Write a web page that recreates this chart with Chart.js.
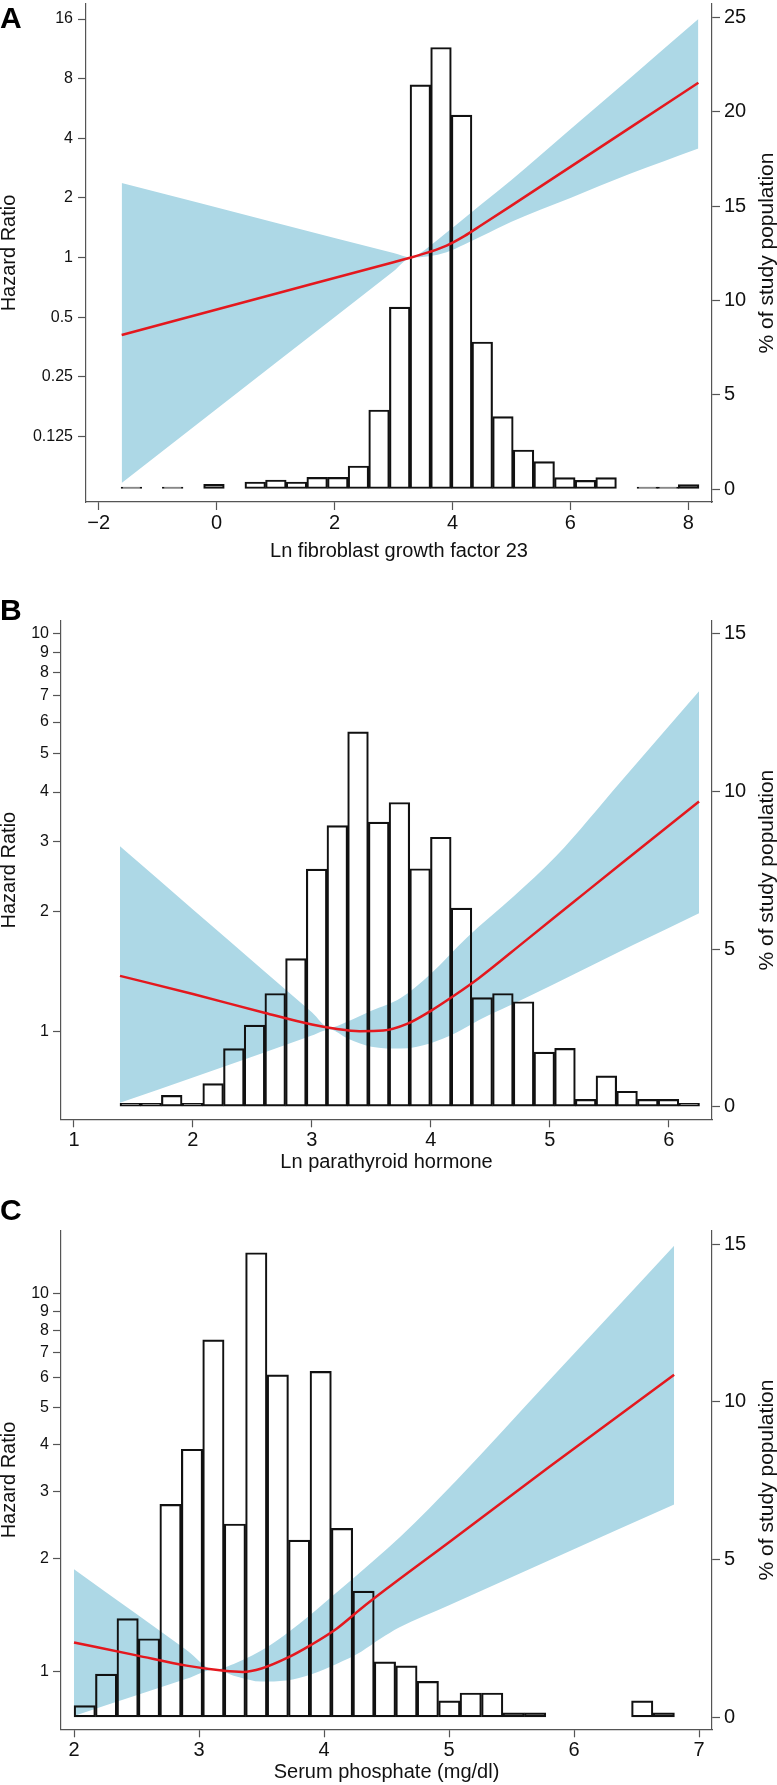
<!DOCTYPE html>
<html>
<head>
<meta charset="utf-8">
<script src="https://cdn.jsdelivr.net/npm/chart.js@4.4.1/dist/chart.umd.min.js"></script>
<style>
  html, body { margin: 0; padding: 0; background: #fff; }
  .panel { position: absolute; left: 0; width: 777px; }
  canvas { display: block; }
</style>
</head>
<body>
<div class="panel" style="top:0"><canvas id="chartA" width="777" height="580"></canvas></div>
<div class="panel" style="top:580px"><canvas id="chartB" width="777" height="600"></canvas></div>
<div class="panel" style="top:1180px"><canvas id="chartC" width="777" height="605"></canvas></div>
<script>
// Panel A: Ln fibroblast growth factor 23
const fgfBinMid = [-1.445, -1.095, -0.745, -0.395, -0.045, 0.305, 0.655, 1.005, 1.355, 1.705, 2.055, 2.405, 2.755, 3.105,
  3.455, 3.805, 4.155, 4.505, 4.855, 5.205, 5.555, 5.905, 6.255, 6.605, 6.955, 7.305, 7.655, 8.005];
const fgfPct = [0.1, null, 0.1, null, 0.25, null, 0.37, 0.48, 0.37, 0.62, 0.62, 1.22, 4.19, 9.65,
  21.44, 23.42, 19.83, 7.8, 3.84, 2.07, 1.45, 0.6, 0.46, 0.6, null, 0.1, 0.1, 0.23];
const fgfFitX = [-1.61, 1.0, 3.0, 3.3, 3.6, 3.9, 4.2, 4.5, 5.0, 6.0, 7.0, 8.17];
const fgfHR = [0.406, 0.656, 0.947, 1.0, 1.064, 1.149, 1.283, 1.464, 1.828, 2.868, 4.5, 7.62];
const fgfBandX = [-1.61, 1.0, 3.0, 3.3, 3.45, 3.6, 3.9, 4.2, 4.5, 5.0, 6.0, 7.0, 8.17];
const fgfUpper = [2.378, 1.5, 1.054, 1.0, 1.05, 1.133, 1.338, 1.58, 1.866, 2.462, 4.438, 8.0, 16.0];
const fgfLower = [0.0727, 0.293, 0.852, 1.0, 1.0035, 1.014, 1.064, 1.165, 1.283, 1.516, 2.0, 2.639, 3.555];
const fgfXTicks = [-2, 0, 2, 4, 6, 8];
const fgfHRTicks = [0.125, 0.25, 0.5, 1, 2, 4, 8, 16];
const fgfPctTicks = [0, 5, 10, 15, 20, 25];

// Panel B: Ln parathyroid hormone
const pthBinMid = [1.474, 1.648, 1.822, 1.996, 2.170, 2.344, 2.518, 2.692, 2.866, 3.040, 3.214, 3.388, 3.562, 3.736,
  3.910, 4.084, 4.258, 4.432, 4.606, 4.780, 4.954, 5.128, 5.302, 5.476, 5.650, 5.824, 5.998, 6.172];
const pthPct = [0.11, 0.11, 0.36, 0.11, 0.73, 1.84, 2.59, 3.59, 4.7, 7.54, 8.92, 11.89, 9.03, 9.65,
  7.55, 8.55, 6.3, 3.46, 3.59, 3.33, 1.73, 1.85, 0.23, 0.98, 0.49, 0.23, 0.23, 0.11];
const pthFitX = [1.387, 2.0, 2.6, 3.0, 3.2, 3.4, 3.6, 3.8, 4.0, 4.2, 4.4, 4.8, 5.2, 5.6, 6.255];
const pthHR = [1.378, 1.24, 1.113, 1.039, 1.014, 1.0, 1.0035, 1.043, 1.125, 1.231, 1.357, 1.693, 2.114, 2.639, 3.787];
const pthUpperX = [1.387, 2.0, 2.6, 3.0, 3.15, 3.3, 3.5, 3.75, 4.0, 4.3, 4.7, 5.05, 5.6, 6.255];
const pthUpper = [2.92, 2.025, 1.416, 1.116, 1.02, 1.057, 1.125, 1.214, 1.395, 1.717, 2.188, 2.751, 4.26, 7.17];
const pthLowerX = [1.387, 2.0, 2.6, 3.0, 3.15, 3.3, 3.5, 3.75, 4.0, 4.2, 4.41, 4.8, 5.25, 5.7, 6.255];
const pthLower = [0.66, 0.765, 0.884, 0.975, 1.01, 0.959, 0.914, 0.904, 0.933, 0.986, 1.068, 1.214, 1.414, 1.647, 1.982];
const pthXTicks = [1, 2, 3, 4, 5, 6];
const pthHRTicks = [1, 2, 3, 4, 5, 6, 7, 8, 9, 10];
const pthPctTicks = [0, 5, 10, 15];

// Panel C: Serum phosphate
const phosBinMid = [2.086, 2.257, 2.429, 2.600, 2.772, 2.944, 3.115, 3.287, 3.458, 3.630, 3.801, 3.973, 4.144, 4.316,
  4.487, 4.659, 4.830, 5.002, 5.173, 5.345, 5.516, 5.688, 5.859, 6.031, 6.202, 6.374, 6.545, 6.717];
const phosPct = [0.37, 1.37, 3.13, 2.49, 6.75, 8.5, 11.97, 6.13, 14.73, 10.86, 5.62, 10.97, 5.99, 4.0,
  1.76, 1.63, 1.14, 0.52, 0.77, 0.77, 0.14, 0.14, null, null, null, null, 0.52, 0.14];
const phosFitX = [2.0, 2.5, 2.9, 3.2, 3.35, 3.5, 3.7, 3.9, 4.1, 4.3, 4.5, 5.0, 5.8, 6.8];
const phosHR = [1.197, 1.106, 1.039, 1.007, 1.0, 1.021, 1.087, 1.181, 1.301, 1.474, 1.659, 2.204, 3.482, 6.11];
const phosUpperX = [2.0, 2.5, 2.9, 3.12, 3.3, 3.55, 3.8, 4.06, 4.4, 4.61, 5.06, 5.8, 6.8];
const phosUpper = [1.87, 1.423, 1.143, 1.014, 1.057, 1.165, 1.338, 1.58, 1.973, 2.277, 3.213, 5.9, 13.42];
const phosLowerX = [2.0, 2.5, 2.9, 3.12, 3.3, 3.5, 3.7, 3.9, 4.1, 4.3, 4.45, 4.6, 5.0, 5.9, 6.8];
const phosLower = [0.765, 0.868, 0.959, 1.014, 0.973, 0.943, 0.949, 0.986, 1.05, 1.133, 1.223, 1.31, 1.501, 2.042, 2.772];
const phosXTicks = [2, 3, 4, 5, 6, 7];
const phosHRTicks = [1, 2, 3, 4, 5, 6, 7, 8, 9, 10];
const phosPctTicks = [0, 5, 10, 15];

const fontFamily = '"Liberation Sans", Arial, Helvetica, sans-serif';
const bandColor = 'rgb(173, 216, 230)';
const fitColor = 'rgb(228, 24, 30)';
const axisColor = '#555';
const textColor = '#111';

Chart.defaults.font.family = fontFamily;

function toPoints(xs, ys) {
  return xs.map((x, i) => ({ x: x, y: ys[i] }));
}

// Panel letter and the right-hand title (Chart.js would rotate it the other way)
const panelText = {
  id: 'panelText',
  afterDraw(chart, args, opts) {
    const { ctx, chartArea } = chart;
    ctx.save();
    ctx.fillStyle = '#000';
    ctx.textAlign = 'left';
    ctx.textBaseline = 'alphabetic';
    ctx.font = 'bold 30px ' + fontFamily;
    ctx.fillText(opts.letter, 0, opts.letterY);

    ctx.fillStyle = textColor;
    ctx.font = '21px ' + fontFamily;
    ctx.translate(chart.width - 4, (chartArea.top + chartArea.bottom) / 2);
    ctx.rotate(-Math.PI / 2);
    ctx.textAlign = 'center';
    ctx.fillText(opts.rightTitle, 0, 0);
    ctx.restore();
  }
};

function drawPanel(canvasId, p) {
  const ctx = document.getElementById(canvasId).getContext('2d');
  return new Chart(ctx, {
    type: 'line',
    data: {
      datasets: [
        {
          label: 'upper 95% CI',
          data: toPoints(p.upperX, p.upper),
          yAxisID: 'y',
          fill: '+1',
          backgroundColor: bandColor,
          borderColor: 'rgba(0,0,0,0)',
          borderWidth: 0,
          pointRadius: 0,
          cubicInterpolationMode: 'monotone',
          order: 4
        },
        {
          label: 'lower 95% CI',
          data: toPoints(p.lowerX, p.lower),
          yAxisID: 'y',
          fill: false,
          borderColor: 'rgba(0,0,0,0)',
          borderWidth: 0,
          pointRadius: 0,
          cubicInterpolationMode: 'monotone',
          order: 3
        },
        {
          type: 'bar',
          label: '% of study population',
          data: toPoints(p.binMid, p.pct),
          yAxisID: 'yR',
          backgroundColor: 'rgba(0,0,0,0)',
          borderColor: '#111',
          borderWidth: 1.5,
          borderSkipped: false,
          categoryPercentage: 1,
          barPercentage: 1,
          order: 2
        },
        {
          label: 'Hazard ratio',
          data: toPoints(p.fitX, p.hr),
          yAxisID: 'y',
          fill: false,
          borderColor: fitColor,
          borderWidth: 2.5,
          pointRadius: 0,
          cubicInterpolationMode: 'monotone',
          order: 1
        }
      ]
    },
    options: {
      responsive: false,
      animation: false,
      layout: { padding: { top: p.padTop, left: 0, right: 0, bottom: 0 } },
      plugins: {
        legend: { display: false },
        tooltip: { enabled: false },
        panelText: { letter: p.letter, letterY: p.letterY, rightTitle: '% of study population' }
      },
      scales: {
        x: {
          type: 'linear',
          position: 'bottom',
          bounds: 'data',
          offset: false,
          min: p.xMin,
          max: p.xMax,
          grid: { drawOnChartArea: false, offset: false, tickLength: 8, tickColor: axisColor, tickWidth: 1.2 },
          border: { display: true, color: axisColor, width: 1.2 },
          ticks: {
            color: textColor,
            font: { size: 20 },
            padding: 1,
            maxRotation: 0,
            callback: v => (v < 0 ? '\u2212' + Math.abs(v) : String(v))
          },
          title: {
            display: true,
            text: p.xTitle,
            color: textColor,
            font: { size: 20, lineHeight: 1.2 },
            padding: { top: 0, bottom: p.xTitlePad }
          },
          afterBuildTicks: s => { s.ticks = p.xTicks.map(v => ({ value: v })); },
          afterFit: s => { s.height = p.xAxisH; s.paddingLeft = 0; s.paddingRight = 0; }
        },
        y: {
          type: 'logarithmic',
          position: 'left',
          bounds: 'data',
          min: p.yMin,
          max: p.yMax,
          grid: { drawOnChartArea: false, tickLength: 8, tickColor: axisColor, tickWidth: 1.2 },
          border: { display: true, color: axisColor, width: 1.2 },
          ticks: {
            color: textColor,
            font: { size: 16 },
            padding: p.leftTickPad,
            callback: v => String(v)
          },
          title: {
            display: true,
            text: 'Hazard Ratio',
            color: textColor,
            font: { size: 20, lineHeight: 1.2 },
            padding: { top: -3, bottom: 0 }
          },
          afterBuildTicks: s => { s.ticks = p.hrTicks.map(v => ({ value: v })); },
          afterFit: s => { s.width = p.leftW; s.paddingTop = 0; s.paddingBottom = 0; }
        },
        yR: {
          type: 'linear',
          position: 'right',
          bounds: 'data',
          min: p.rMin,
          max: p.rMax,
          grid: { drawOnChartArea: false, tickLength: 8, tickColor: axisColor, tickWidth: 1.2 },
          border: { display: true, color: axisColor, width: 1.2 },
          ticks: { color: textColor, font: { size: 20 }, padding: 4 },
          afterBuildTicks: s => { s.ticks = p.pctTicks.map(v => ({ value: v })); },
          afterFit: s => { s.width = 65; s.paddingTop = 0; s.paddingBottom = 0; }
        }
      }
    },
    plugins: [panelText]
  });
}

drawPanel('chartA', {
  letter: 'A', letterY: 28,
  binMid: fgfBinMid, pct: fgfPct,
  fitX: fgfFitX, hr: fgfHR,
  upperX: fgfBandX, upper: fgfUpper, lowerX: fgfBandX, lower: fgfLower,
  xTicks: fgfXTicks, hrTicks: fgfHRTicks, pctTicks: fgfPctTicks,
  xTitle: 'Ln fibroblast growth factor 23',
  xMin: -2.215, xMax: 8.401, yMin: 0.0583, yMax: 19.05, rMin: -0.689, rMax: 25.726,
  padTop: 4, leftW: 86, xAxisH: 78, xTitlePad: 17, leftTickPad: 5
});

drawPanel('chartB', {
  letter: 'B', letterY: 40,
  binMid: pthBinMid, pct: pthPct,
  fitX: pthFitX, hr: pthHR,
  upperX: pthUpperX, upper: pthUpper, lowerX: pthLowerX, lower: pthLower,
  xTicks: pthXTicks, hrTicks: pthHRTicks, pctTicks: pthPctTicks,
  xTitle: 'Ln parathyroid hormone',
  xMin: 0.891, xMax: 6.364, yMin: 0.6, yMax: 10.78, rMin: -0.4, rMax: 15.41,
  padTop: 41, leftW: 61, xAxisH: 60.7, xTitlePad: 5.4, leftTickPad: 4
});

drawPanel('chartC', {
  letter: 'C', letterY: 40,
  binMid: phosBinMid, pct: phosPct,
  fitX: phosFitX, hr: phosHR,
  upperX: phosUpperX, upper: phosUpper, lowerX: phosLowerX, lower: phosLower,
  xTicks: phosXTicks, hrTicks: phosHRTicks, pctTicks: phosPctTicks,
  xTitle: 'Serum phosphate (mg/dl)',
  xMin: 1.896, xMax: 7.103, yMin: 0.705, yMax: 14.7, rMin: -0.38, rMax: 15.43,
  padTop: 50.7, leftW: 61, xAxisH: 55.7, xTitlePad: 1, leftTickPad: 4
});
</script>
</body>
</html>
